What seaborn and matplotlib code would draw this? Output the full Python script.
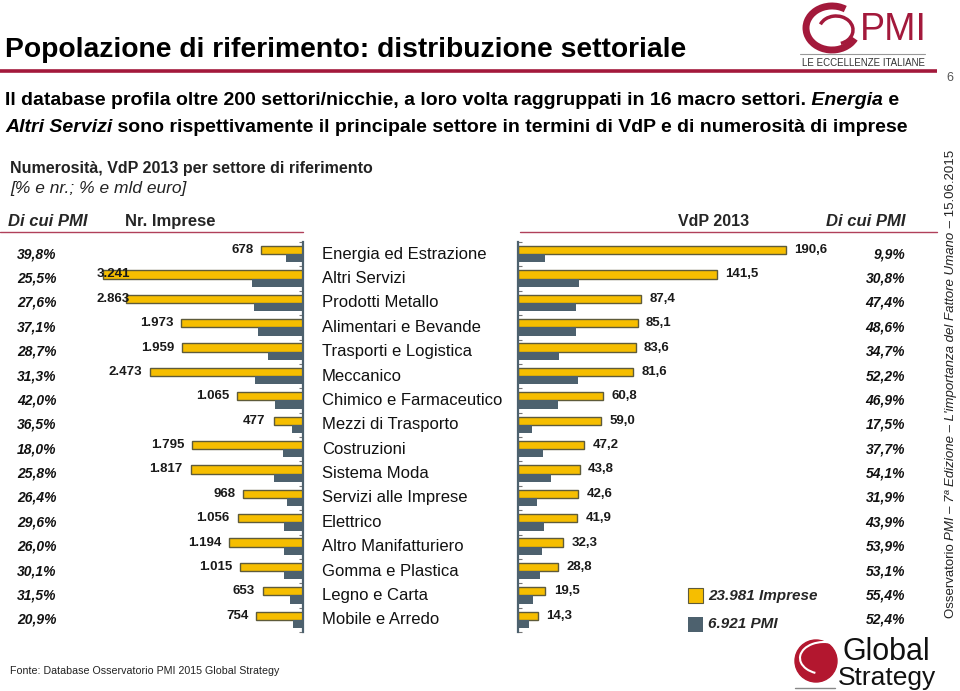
import numpy as np
import pandas as pd
import matplotlib
matplotlib.use("Agg")
import matplotlib.pyplot as plt
import matplotlib.transforms as mtrans
from matplotlib.patches import Rectangle, Circle, Arc
import seaborn as sns

# Sectors (top to bottom)
settori = ["Energia ed Estrazione", "Altri Servizi", "Prodotti Metallo", "Alimentari e Bevande",
           "Trasporti e Logistica", "Meccanico", "Chimico e Farmaceutico", "Mezzi di Trasporto",
           "Costruzioni", "Sistema Moda", "Servizi alle Imprese", "Elettrico",
           "Altro Manifatturiero", "Gomma e Plastica", "Legno e Carta", "Mobile e Arredo"]

# Number of companies (all / of which PMI)
nr_imprese = [678, 3241, 2863, 1973, 1959, 2473, 1065, 477, 1795, 1817, 968, 1056, 1194, 1015, 653, 754]
nr_pmi = [270, 826, 790, 732, 562, 774, 447, 174, 323, 469, 256, 313, 310, 306, 206, 158]
nr_labels = ["678", "3.241", "2.863", "1.973", "1.959", "2.473", "1.065", "477", "1.795", "1.817",
             "968", "1.056", "1.194", "1.015", "653", "754"]
pct_nr = ["39,8%", "25,5%", "27,6%", "37,1%", "28,7%", "31,3%", "42,0%", "36,5%", "18,0%", "25,8%",
          "26,4%", "29,6%", "26,0%", "30,1%", "31,5%", "20,9%"]

# VdP 2013, mld euro (all / of which PMI)
vdp_tot = [190.6, 141.5, 87.4, 85.1, 83.6, 81.6, 60.8, 59.0, 47.2, 43.8, 42.6, 41.9, 32.3, 28.8, 19.5, 14.3]
vdp_pmi = [18.9, 43.6, 41.4, 41.4, 29.0, 42.6, 28.5, 10.3, 17.8, 23.7, 13.6, 18.4, 17.4, 15.3, 10.8, 7.5]
pct_vdp = ["9,9%", "30,8%", "47,4%", "48,6%", "34,7%", "52,2%", "46,9%", "17,5%", "37,7%", "54,1%",
           "31,9%", "43,9%", "53,9%", "53,1%", "55,4%", "52,4%"]

serie = ["23.981 Imprese", "6.921 PMI"]

GIALLO = "#F6BE00"
GRIGIO = "#4D616E"
BORDO = "#5E5B3A"
ROSSO = "#A3193B"

sns.set_theme(style="white")
plt.rcParams["font.family"] = ["Liberation Sans", "DejaVu Sans"]

W, H = 960, 691
fig = plt.figure(figsize=(9.6, 6.91), dpi=100)


def fx(x):
    return x / W


def fy(y):
    return 1 - y / H


# overlay in pixel coordinates for decorations
ov = fig.add_axes([0, 0, 1, 1])
ov.set_xlim(0, W)
ov.set_ylim(H, 0)
ov.axis("off")

top, bottom = 242, 632
axL = fig.add_axes([fx(95), fy(bottom), fx(303 - 95), (bottom - top) / H])
axR = fig.add_axes([fx(518), fy(bottom), fx(920 - 518), (bottom - top) / H])

dfL = pd.DataFrame({"settore": settori * 2,
                    "serie": [serie[0]] * 16 + [serie[1]] * 16,
                    "valore": nr_imprese + nr_pmi})
dfR = pd.DataFrame({"settore": settori * 2,
                    "serie": [serie[0]] * 16 + [serie[1]] * 16,
                    "valore": vdp_tot + vdp_pmi})

for ax, df in [(axL, dfL), (axR, dfR)]:
    sns.barplot(data=df, y="settore", x="valore", hue="serie", orient="h",
                palette=[GIALLO, GRIGIO], width=0.68, dodge=True, ax=ax,
                legend=False, linewidth=0, saturation=1)
    for i, p in enumerate(ax.patches):
        if i < 16:
            p.set_edgecolor(BORDO)
            p.set_linewidth(1.0)
    ax.set_ylim(15.5, -0.5)
    ax.set_xlabel("")
    ax.set_ylabel("")
    ax.set_xticks([])
    ax.set_yticks(np.arange(-0.5, 16, 1))
    ax.set_yticklabels([])
    ax.patch.set_alpha(0)
    for s in ax.spines.values():
        s.set_visible(False)

axL.set_xlim(3371, 0)
axL.spines["right"].set_visible(True)
axL.spines["right"].set_color(GRIGIO)
axL.spines["right"].set_linewidth(1.6)
axL.yaxis.tick_right()
axL.tick_params(axis="y", direction="in", length=3, width=0.8, color="#777777", right=True, left=False)

axR.set_xlim(0, 286)
axR.spines["left"].set_visible(True)
axR.spines["left"].set_color(GRIGIO)
axR.spines["left"].set_linewidth(1.6)
axR.tick_params(axis="y", direction="in", length=3, width=0.8, color="#777777", left=True)

# value labels
for i, v in enumerate(nr_imprese):
    if v > 2600:
        axL.text(3340, i - 0.17, nr_labels[i], ha="left", va="center", fontsize=9.5,
                 fontweight="bold", color="#1a1a1a", zorder=5)
    else:
        axL.text(v + 130, i - 0.17, nr_labels[i], ha="right", va="center", fontsize=9.5,
                 fontweight="bold", color="#1a1a1a")
for i, v in enumerate(vdp_tot):
    axR.text(v + 6, i - 0.17, f"{v:.1f}".replace(".", ","), ha="left", va="center",
             fontsize=9.5, fontweight="bold", color="#1a1a1a")

# row labels and percentages
tr = mtrans.blended_transform_factory(ov.transData, axL.transData)
for i in range(16):
    ov.text(322, i, settori[i], transform=tr, ha="left", va="center", fontsize=12, color="#111111")
    ov.text(17, i, pct_nr[i], transform=tr, ha="left", va="center", fontsize=10,
            fontweight="bold", fontstyle="italic", color="#111111")
    ov.text(905, i, pct_vdp[i], transform=tr, ha="right", va="center", fontsize=10,
            fontweight="bold", fontstyle="italic", color="#111111")

# legend
ov.add_patch(Rectangle((688, 588), 15, 15, facecolor=GIALLO, edgecolor=BORDO, lw=0.8))
ov.add_patch(Rectangle((688, 617), 15, 15, facecolor=GRIGIO, edgecolor="none"))
ov.text(708, 596, serie[0], ha="left", va="center", fontsize=11, fontweight="bold", fontstyle="italic")
ov.text(708, 624, serie[1], ha="left", va="center", fontsize=11, fontweight="bold", fontstyle="italic")

# title and header
ov.text(5, 50, "Popolazione di riferimento: distribuzione settoriale", ha="left", va="center",
        fontsize=20.3, fontweight="bold", color="#000000")
ov.plot([0, 937], [71, 71], color=ROSSO, lw=2.6, solid_capstyle="butt")
ov.text(950, 78, "6", ha="center", va="center", fontsize=9, color="#555555")

renderer = fig.canvas.get_renderer()
scala = W / fig.bbox.width


def riga(parti, x, y, size=14):
    for testo, stile in parti:
        t = ov.text(x, y, testo, ha="left", va="center", fontsize=size, fontweight="bold",
                    fontstyle=stile, color="#000000")
        x = x + t.get_window_extent(renderer).width * scala


riga([("Il database profila oltre 200 settori/nicchie, a loro volta raggruppati in 16 macro settori.", "normal"),
      (" Energia", "italic"), (" e", "normal")], 5, 100)
riga([("Altri Servizi", "italic"),
      (" sono rispettivamente il principale settore in termini di VdP e di numerosità di imprese", "normal")], 5, 127)

ov.text(10, 168, "Numerosità, VdP 2013 per settore di riferimento", ha="left", va="center",
        fontsize=11.5, fontweight="bold", color="#222222")
ov.text(10, 188, "[% e nr.; % e mld euro]", ha="left", va="center", fontsize=12.5,
        fontstyle="italic", color="#222222")

ov.text(8, 221, "Di cui PMI", ha="left", va="center", fontsize=12, fontweight="bold", fontstyle="italic")
ov.text(125, 221, "Nr. Imprese", ha="left", va="center", fontsize=12, fontweight="bold")
ov.text(678, 221, "VdP 2013", ha="left", va="center", fontsize=11.5, fontweight="bold")
ov.text(905, 221, "Di cui PMI", ha="right", va="center", fontsize=12, fontweight="bold", fontstyle="italic")
ov.plot([0, 303], [232, 232], color="#B0405A", lw=1.0)
ov.plot([520, 937], [232, 232], color="#B0405A", lw=1.0)

# side note, written bottom to top
y_side = 618
for testo, stile in [("Osservatorio ", "normal"),
                     ("PMI – 7ª Edizione – L'importanza del Fattore Umano", "italic"),
                     (" – 15.06.2015", "normal")]:
    t = ov.text(951, y_side, testo, rotation=90, rotation_mode="anchor", ha="left", va="center",
                fontsize=9.5, fontstyle=stile, color="#222222")
    y_side -= t.get_window_extent(renderer).height * scala

# footer
ov.text(10, 671, "Fonte: Database Osservatorio PMI 2015 Global Strategy", ha="left", va="center",
        fontsize=7.7, color="#222222")

# PMI logo (approximate)
ov.add_patch(Arc((832, 28), 52, 44, theta1=25, theta2=305, color=ROSSO, lw=5))
ov.add_patch(Arc((836, 30), 34, 28, theta1=200, theta2=70, color=ROSSO, lw=2.5))
ov.text(860, 30, "PMI", ha="left", va="center", fontsize=27, color=ROSSO, fontweight="light")
ov.plot([800, 925], [54, 54], color="#999999", lw=0.8)
ov.text(863, 63, "LE ECCELLENZE ITALIANE", ha="center", va="center", fontsize=7, color="#333333")

# Global Strategy logo (approximate)
ov.add_patch(Circle((816, 661), 21, color="#B3172F"))
ov.add_patch(Arc((824, 658), 48, 32, theta1=120, theta2=330, color="white", lw=1.5))
ov.plot([795, 835], [688, 688], color="#888888", lw=1)
ov.text(842, 652, "Global", ha="left", va="center", fontsize=22, color="#111111")
ov.text(838, 678, "Strategy", ha="left", va="center", fontsize=19, color="#111111")

fig.savefig("out.png", dpi=100)
